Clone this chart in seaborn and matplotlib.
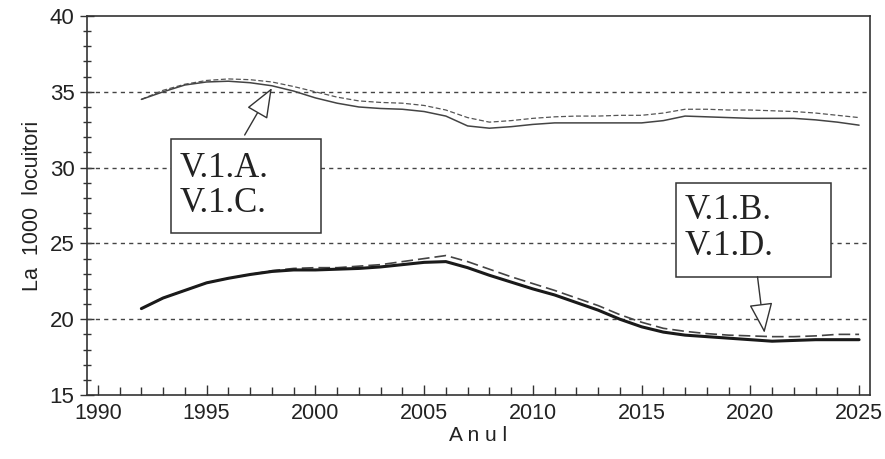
import numpy as np
import pandas as pd
import seaborn as sns
import matplotlib.pyplot as plt
from matplotlib.patches import Rectangle, FancyArrowPatch
from matplotlib.ticker import MultipleLocator

# values (per 1000 inhabitants)
years = list(range(1992, 2026))

v1a = [34.5, 35.0, 35.45, 35.65, 35.7, 35.6, 35.4, 35.05, 34.6, 34.25,
       34.0, 33.9, 33.85, 33.7, 33.4, 32.75, 32.6, 32.7, 32.85, 32.95,
       32.95, 32.95, 32.95, 32.95, 33.1, 33.4, 33.35, 33.3, 33.25, 33.25,
       33.25, 33.15, 33.0, 32.8]

v1c = [34.5, 35.1, 35.5, 35.75, 35.85, 35.8, 35.65, 35.35, 35.0, 34.65,
       34.4, 34.3, 34.25, 34.1, 33.8, 33.3, 33.0, 33.1, 33.25, 33.35,
       33.4, 33.4, 33.45, 33.45, 33.6, 33.85, 33.85, 33.8, 33.8, 33.75,
       33.7, 33.6, 33.45, 33.3]

v1b = [20.7, 21.4, 21.9, 22.4, 22.7, 22.95, 23.15, 23.25, 23.25, 23.3,
       23.35, 23.45, 23.6, 23.75, 23.8, 23.4, 22.9, 22.45, 22.0, 21.6,
       21.1, 20.6, 20.0, 19.5, 19.15, 18.95, 18.85, 18.75, 18.65, 18.55,
       18.6, 18.65, 18.65, 18.65]

v1d = [20.7, 21.4, 21.9, 22.4, 22.7, 22.95, 23.2, 23.35, 23.4, 23.4,
       23.5, 23.6, 23.8, 24.0, 24.2, 23.8, 23.3, 22.8, 22.35, 21.9,
       21.4, 20.9, 20.3, 19.8, 19.4, 19.2, 19.05, 18.95, 18.9, 18.85,
       18.85, 18.9, 19.0, 19.0]

label_top = "V.1.A.\nV.1.C."
label_bottom = "V.1.B.\nV.1.D."

df = pd.DataFrame({"an": years, "A": v1a, "C": v1c, "B": v1b, "D": v1d})

sns.set_style("white")
plt.rcParams["font.family"] = ["Liberation Sans", "DejaVu Sans"]

fig = plt.figure(figsize=(8.85, 4.59), dpi=100)
ax = fig.add_axes([0.0983, 0.1394, 0.8847, 0.8257])

# dashed horizontal grid at the inner major ticks
for gy in [20, 25, 30, 35]:
    ax.axhline(gy, color="#444444", lw=1.0, dashes=(3, 3), zorder=1)

sns.lineplot(data=df, x="an", y="C", ax=ax, color="#555555", lw=0.9,
             zorder=3).lines[-1].set_dashes((4, 2))
sns.lineplot(data=df, x="an", y="A", ax=ax, color="#444444", lw=1.1, zorder=3)
sns.lineplot(data=df, x="an", y="D", ax=ax, color="#444444", lw=1.2,
             zorder=3).lines[-1].set_dashes((7, 3))
sns.lineplot(data=df, x="an", y="B", ax=ax, color="#1a1a1a", lw=2.2, zorder=3)

ax.set_xlim(1989.5, 2025.5)
ax.set_ylim(15, 40)
ax.xaxis.set_major_locator(MultipleLocator(5))
ax.xaxis.set_minor_locator(MultipleLocator(1))
ax.yaxis.set_major_locator(MultipleLocator(5))
ax.yaxis.set_minor_locator(MultipleLocator(1))

ax.tick_params(axis="x", which="major", direction="in", length=7, width=1,
               color="#333333", labelsize=15.5, pad=6, labelcolor="#222222")
ax.tick_params(axis="x", which="minor", direction="in", length=6, width=1,
               color="#333333")
ax.tick_params(axis="y", which="major", direction="inout", length=10, width=1,
               color="#333333", labelsize=16, pad=4, labelcolor="#222222")
ax.tick_params(axis="y", which="minor", direction="inout", length=6, width=1,
               color="#333333")
ax.xaxis.set_ticks_position("bottom")
ax.yaxis.set_ticks_position("left")

for s in ax.spines.values():
    s.set_color("#333333")
    s.set_linewidth(1.2)
    s.set_visible(True)

ax.set_xlabel("A n u l", fontsize=15, color="#222222", labelpad=1)
ax.set_ylabel("La  1000  locuitori", fontsize=15.5, color="#222222", labelpad=5)

# annotation boxes with hollow arrow heads
serif = ["Liberation Serif", "DejaVu Serif"]
boxes = [
    dict(rect=(1993.35, 25.69, 6.93, 6.2), txt=(1993.75, 28.8), label=label_top,
         tail=(1996.75, 32.15), tip=(1998.0, 35.25)),
    dict(rect=(2016.56, 22.8, 7.16, 6.2), txt=(2017.0, 26.0), label=label_bottom,
         tail=(2020.33, 22.8), tip=(2020.65, 19.1)),
]
for b in boxes:
    x0, y0, w, h = b["rect"]
    ax.add_patch(Rectangle((x0, y0), w, h, fc="white", ec="#333333", lw=1.1,
                           zorder=5))
    ax.text(b["txt"][0], b["txt"][1], b["label"], ha="left", va="center",
            fontsize=25, family=serif, color="#222222", linespacing=1.1,
            zorder=6)
    ax.add_patch(FancyArrowPatch(b["tail"], b["tip"],
                                 arrowstyle="-|>,head_length=1.9,head_width=0.75",
                                 mutation_scale=10, fc="white", ec="#333333",
                                 lw=1.0, shrinkA=0, shrinkB=0, zorder=6))

fig.savefig("out.png", dpi=100)
plt.close(fig)
